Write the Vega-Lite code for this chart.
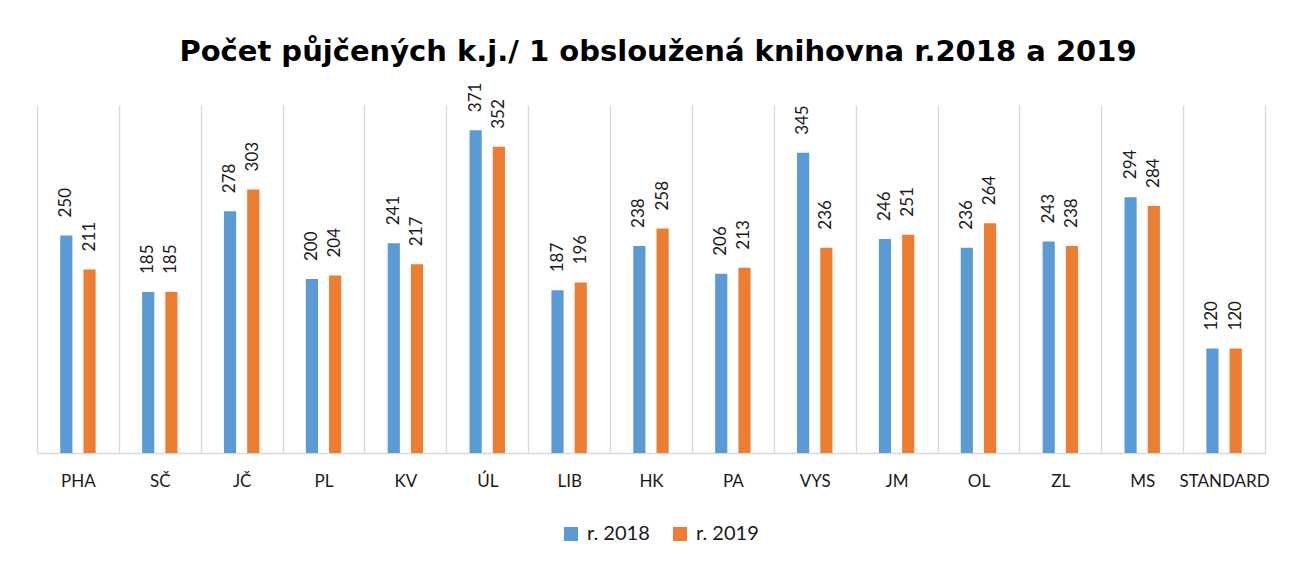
{
  "$schema": "https://vega.github.io/schema/vega-lite/v6.json",
  "width": 1228,
  "height": 348,
  "autosize": "none",
  "padding": {"left": 37, "top": 105, "right": 37, "bottom": 111},
  "background": "white",
  "title": {
    "text": "Počet půjčených k.j./ 1 obsloužená knihovna r.2018 a 2019",
    "font": "DejaVu Sans",
    "fontSize": 29,
    "fontWeight": "bold",
    "color": "#000000",
    "anchor": "middle",
    "baseline": "alphabetic",
    "offset": -7,
    "dx": 7
  },
  "data": {
    "values": [
      {"kraj": "PHA", "rok": "r. 2018", "hodnota": 250},
      {"kraj": "PHA", "rok": "r. 2019", "hodnota": 211},
      {"kraj": "SČ", "rok": "r. 2018", "hodnota": 185},
      {"kraj": "SČ", "rok": "r. 2019", "hodnota": 185},
      {"kraj": "JČ", "rok": "r. 2018", "hodnota": 278},
      {"kraj": "JČ", "rok": "r. 2019", "hodnota": 303},
      {"kraj": "PL", "rok": "r. 2018", "hodnota": 200},
      {"kraj": "PL", "rok": "r. 2019", "hodnota": 204},
      {"kraj": "KV", "rok": "r. 2018", "hodnota": 241},
      {"kraj": "KV", "rok": "r. 2019", "hodnota": 217},
      {"kraj": "ÚL", "rok": "r. 2018", "hodnota": 371},
      {"kraj": "ÚL", "rok": "r. 2019", "hodnota": 352},
      {"kraj": "LIB", "rok": "r. 2018", "hodnota": 187},
      {"kraj": "LIB", "rok": "r. 2019", "hodnota": 196},
      {"kraj": "HK", "rok": "r. 2018", "hodnota": 238},
      {"kraj": "HK", "rok": "r. 2019", "hodnota": 258},
      {"kraj": "PA", "rok": "r. 2018", "hodnota": 206},
      {"kraj": "PA", "rok": "r. 2019", "hodnota": 213},
      {"kraj": "VYS", "rok": "r. 2018", "hodnota": 345},
      {"kraj": "VYS", "rok": "r. 2019", "hodnota": 236},
      {"kraj": "JM", "rok": "r. 2018", "hodnota": 246},
      {"kraj": "JM", "rok": "r. 2019", "hodnota": 251},
      {"kraj": "OL", "rok": "r. 2018", "hodnota": 236},
      {"kraj": "OL", "rok": "r. 2019", "hodnota": 264},
      {"kraj": "ZL", "rok": "r. 2018", "hodnota": 243},
      {"kraj": "ZL", "rok": "r. 2019", "hodnota": 238},
      {"kraj": "MS", "rok": "r. 2018", "hodnota": 294},
      {"kraj": "MS", "rok": "r. 2019", "hodnota": 284},
      {"kraj": "STANDARD", "rok": "r. 2018", "hodnota": 120},
      {"kraj": "STANDARD", "rok": "r. 2019", "hodnota": 120}
    ]
  },
  "encoding": {
    "x": {
      "field": "kraj",
      "type": "nominal",
      "sort": null,
      "scale": {"paddingInner": 0, "paddingOuter": 0},
      "axis": {
        "title": null,
        "labelAngle": 0,
        "labelFont": "Lato",
        "labelFontSize": 17,
        "labelColor": "#1a1a1a",
        "labelPadding": 20,
        "ticks": false,
        "tickBand": "extent",
        "grid": true,
        "gridColor": "#d9d9d9",
        "gridWidth": 1.3,
        "domainColor": "#d9d9d9",
        "domainWidth": 1.3
      }
    },
    "xOffset": {
      "field": "rok",
      "type": "nominal",
      "scale": {"paddingInner": 0.476, "paddingOuter": 1.185}
    },
    "y": {
      "field": "hodnota",
      "type": "quantitative",
      "scale": {"domain": [0, 400]},
      "axis": null
    }
  },
  "layer": [
    {
      "mark": {"type": "bar"},
      "encoding": {
        "color": {
          "field": "rok",
          "type": "nominal",
          "scale": {"domain": ["r. 2018", "r. 2019"], "range": ["#5B9BD5", "#ED7D31"]},
          "legend": {
            "title": null,
            "orient": "none",
            "direction": "horizontal",
            "legendX": 524,
            "legendY": 419,
            "symbolType": "square",
            "symbolSize": 196,
            "symbolStrokeWidth": 0,
            "labelFont": "Lato",
            "labelFontSize": 20,
            "labelColor": "#1a1a1a",
            "labelOffset": 6,
            "columnPadding": 20
          }
        }
      }
    },
    {
      "mark": {
        "type": "text",
        "angle": 270,
        "align": "left",
        "baseline": "middle",
        "dx": 18,
        "font": "Lato",
        "fontSize": 17,
        "color": "#1a1a1a"
      },
      "encoding": {
        "text": {"field": "hodnota", "type": "quantitative"}
      }
    }
  ],
  "config": {
    "view": {"stroke": null}
  }
}
